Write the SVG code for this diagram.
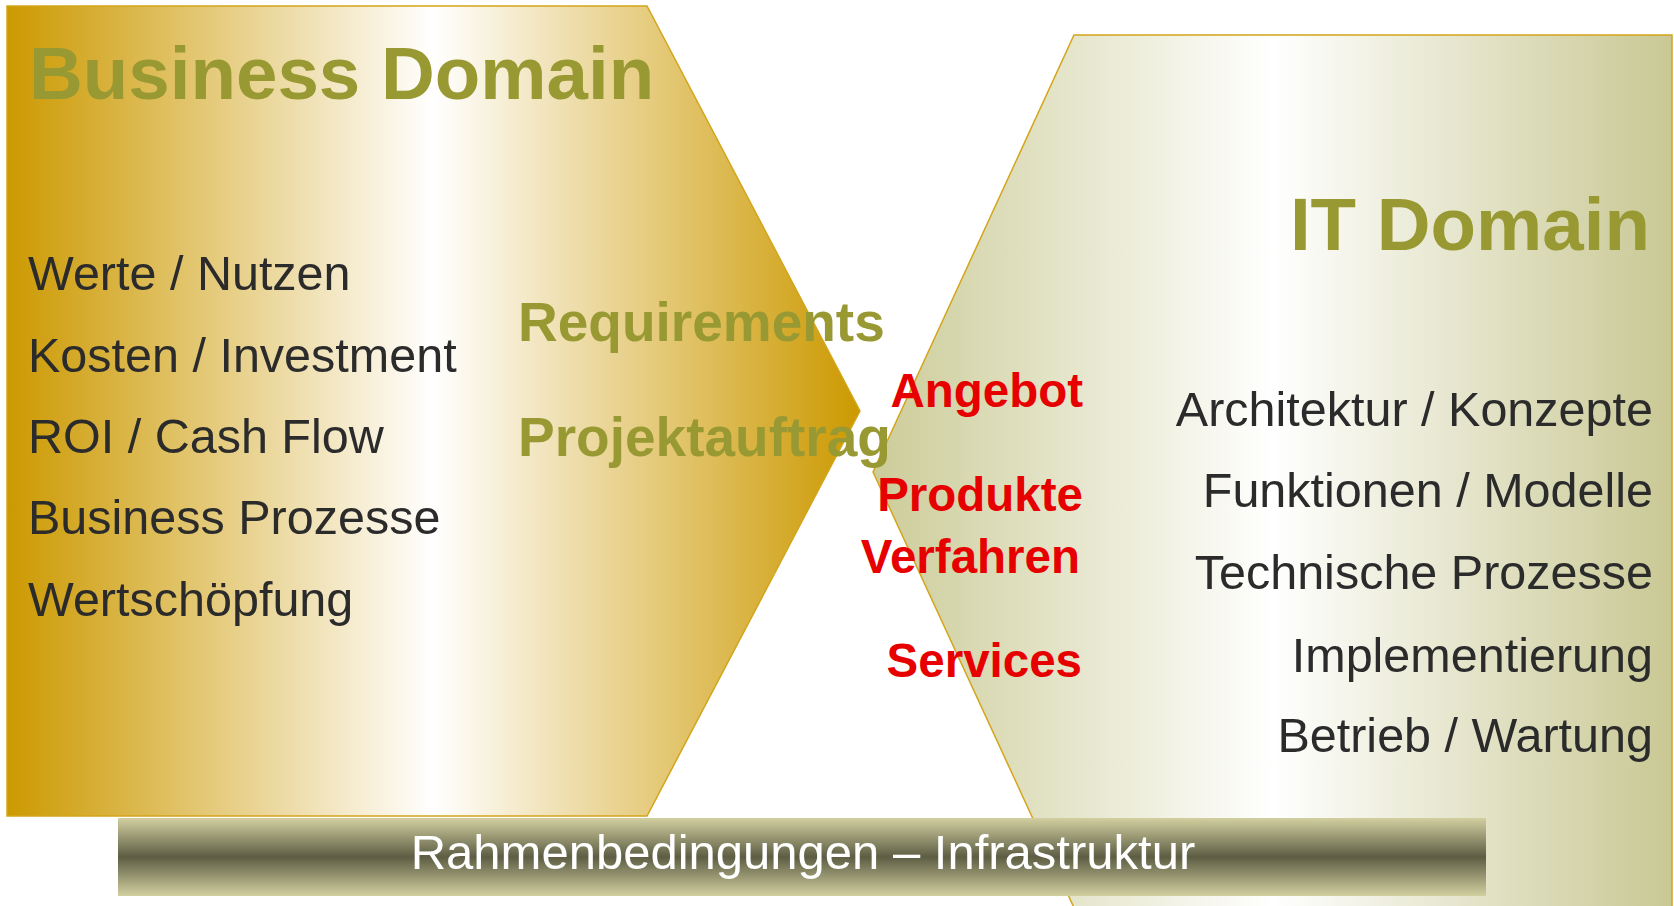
<svg xmlns="http://www.w3.org/2000/svg" width="1674" height="906" viewBox="0 0 1674 906">
<defs>
<linearGradient id="gold" gradientUnits="userSpaceOnUse" x1="7" y1="0" x2="860" y2="0">
<stop offset="0" stop-color="#cc9900"/>
<stop offset="0.5" stop-color="#ffffff"/>
<stop offset="1" stop-color="#cc9900"/>
</linearGradient>
<linearGradient id="khaki" gradientUnits="userSpaceOnUse" x1="873" y1="0" x2="1672" y2="0">
<stop offset="0" stop-color="#cccc99"/>
<stop offset="0.5" stop-color="#ffffff"/>
<stop offset="1" stop-color="#c9c894"/>
</linearGradient>
<linearGradient id="bar" x1="0" y1="0" x2="0" y2="1">
<stop offset="0" stop-color="#d2d0a0"/>
<stop offset="0.5" stop-color="#5d5d44"/>
<stop offset="1" stop-color="#d2d0a0"/>
</linearGradient>
</defs>
<style>
.shape{stroke:#d4a51a;stroke-width:1.5}
.title{font-family:"Liberation Sans",Arial,sans-serif;font-weight:bold;font-size:74.5px;fill:#999933}
.mid{font-family:"Liberation Sans",Arial,sans-serif;font-weight:bold;font-size:55px;fill:#999933}
.red{font-family:"Liberation Sans",Arial,sans-serif;font-weight:bold;font-size:47.5px;fill:#e60000;text-anchor:end}
.item{font-family:"Liberation Sans",Arial,sans-serif;font-size:48.5px;fill:#2b2b2b}
.right{text-anchor:end}
.bartext{font-family:"Liberation Sans",Arial,sans-serif;font-size:49px;fill:#ffffff;text-anchor:middle}
</style>
<g id="business-domain">
<polygon class="shape" fill="url(#gold)" points="7,6 647,6 860,411 647,816 7,816"/>
<text class="title" x="29" y="99">Business Domain</text>
<text class="item" x="28" y="290">Werte / Nutzen</text>
<text class="item" x="28" y="372">Kosten / Investment</text>
<text class="item" x="28" y="453">ROI / Cash Flow</text>
<text class="item" x="28" y="534">Business Prozesse</text>
<text class="item" x="28" y="616">Wertschöpfung</text>
</g>
<g id="it-domain">
<polygon class="shape" fill="url(#khaki)" points="1074,35 1672,35 1672,912 1076,912 873,472"/>
<text class="title right" x="1650" y="250">IT Domain</text>
<text class="item right" x="1653" y="426">Architektur / Konzepte</text>
<text class="item right" x="1653" y="507">Funktionen / Modelle</text>
<text class="item right" x="1653" y="589">Technische Prozesse</text>
<text class="item right" x="1653" y="672">Implementierung</text>
<text class="item right" x="1653" y="752">Betrieb / Wartung</text>
</g>
<g id="exchange">
<text class="mid" x="518" y="341">Requirements</text>
<text class="mid" x="518" y="456">Projektauftrag</text>
<text class="red" x="1083" y="407">Angebot</text>
<text class="red" x="1083" y="511">Produkte</text>
<text class="red" x="1080" y="573">Verfahren</text>
<text class="red" x="1082" y="677">Services</text>
</g>
<g id="infrastructure">
<rect x="118" y="818" width="1368" height="78" fill="url(#bar)"/>
<text class="bartext" x="803" y="869">Rahmenbedingungen – Infrastruktur</text>
</g>
<g id="connectors"/>
</svg>
